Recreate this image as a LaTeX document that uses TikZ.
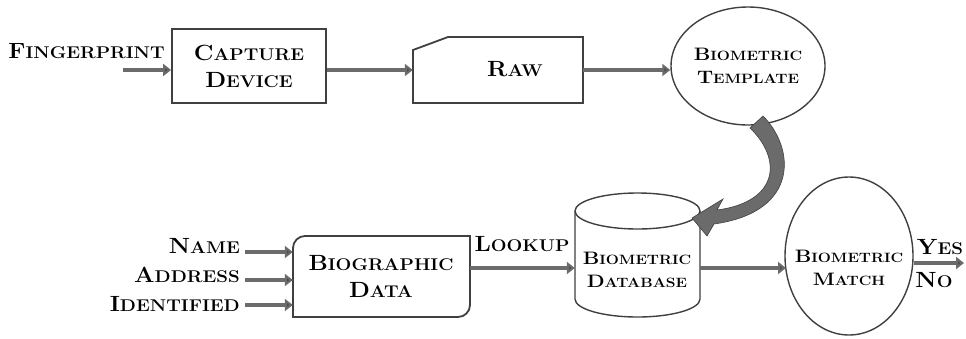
\documentclass[tikz,border=0pt]{standalone}
\usepackage{graphicx}
\usetikzlibrary{arrows.meta,shapes.geometric}
% large caps-and-small-caps labels, set slightly wide
\newcommand\cpL[2]{\scalebox{1.1}[1]{{\fontsize{22}{27}\selectfont #1}{\fontsize{17}{27}\selectfont #2}}}
% smaller variant for the round nodes
\newcommand\cpS[2]{\scalebox{1.15}[1]{{\fontsize{18}{23}\selectfont #1}{\fontsize{13.5}{23}\selectfont #2}}}
\definecolor{edge}{gray}{0.25}
\definecolor{flow}{gray}{0.42}
\definecolor{tip}{gray}{0.3}
\tikzset{
  lbl/.style={font=\bfseries\fontsize{17}{27}\selectfont, text=black, inner sep=0pt},
  lblS/.style={font=\bfseries\fontsize{13.5}{23}\selectfont, text=black, inner sep=0pt, align=center},
  boxshape/.style={draw=edge, line width=1.8pt, fill=white},
  roundshape/.style={ellipse, draw=edge, line width=1.4pt, fill=white, inner sep=0pt},
  flowarrow/.style={draw=flow, line width=4.5pt, -{Triangle[length=8pt,width=12pt,fill=tip]}},
}
\begin{document}
\begin{tikzpicture}[x=1pt,y=-1pt]
\useasboundingbox (0,0) rectangle (966,338);

% ---------- top row ----------
\node[lbl, anchor=east] (fp) at (165,51) {\cpL{F}{INGERPRINT}};
\coordinate (fpin) at (123,70);

\node[boxshape, minimum width=154pt, minimum height=74pt, align=center,
      font=\bfseries\fontsize{17}{27}\selectfont] (cap) at (249,66)
  {\cpL{C}{APTURE}\\\cpL{D}{EVICE}};

% raw record with a cut corner
\node[minimum width=170pt, minimum height=67pt, inner sep=0pt] (raw) at (498,69.5) {};
\draw[boxshape] (413,103) -- (413,50) -- (448,37) -- (583,37) -- (583,103) -- cycle;
\node[lbl] at (515,69) {\cpL{R}{AW}};

\node[roundshape, minimum width=154pt, minimum height=118pt] (tmpl) at (748,66) {};
\node[lblS] at (748,66) {\cpS{B}{IOMETRIC}\\\cpS{T}{EMPLATE}};

% ---------- bottom row ----------
\node[lbl, anchor=east] (nm) at (240,246) {\cpL{N}{AME}};
\node[lbl, anchor=east] (ad) at (240,275) {\cpL{A}{DDRESS}};
\node[lbl, anchor=east] (id) at (240,304) {\cpL{I}{DENTIFIED}};
\coordinate (nmin) at (245,252);
\coordinate (adin) at (245,280);
\coordinate (idin) at (245,305);

% biographic data box, rounded at top left and bottom right
\node[minimum width=177pt, minimum height=81pt, inner sep=0pt] (bio) at (381.5,276.5) {};
\draw[boxshape] (293,317) -- (293,248) arc[start angle=180,end angle=270,radius=12] -- (470,236)
  -- (470,305) arc[start angle=0,end angle=90,radius=12] -- cycle;
\node[lbl, align=center] at (381,276) {\cpL{B}{IOGRAPHIC}\\\cpL{D}{ATA}};

\node[lbl] (lk) at (522,244) {\cpL{L}{OOKUP}};

% database cylinder
\node[minimum width=125pt, minimum height=124pt, inner sep=0pt] (db) at (637.5,262) {};
\draw[boxshape, line width=1.4pt] (575,211) -- (575,299) arc[start angle=180,end angle=0,x radius=62.5,y radius=18] -- (700,211);
\draw[boxshape, line width=1.4pt] (637.5,211) ellipse[x radius=62.5,y radius=18];
\node[lblS] at (637,270) {\cpS{B}{IOMETRIC}\\\cpS{D}{ATABASE}};

\node[roundshape, minimum width=128pt, minimum height=158pt] (match) at (849,256) {};
\node[lblS] at (849,268) {\cpS{B}{IOMETRIC}\\\cpS{M}{ATCH}};

\node[lbl] (yes) at (940,247) {\cpL{Y}{ES}};
\node[lbl] (no) at (934,280) {\cpL{N}{O}};
\coordinate (out) at (964,263);

% ---------- connectors ----------
\draw[flowarrow] (fpin) -- (cap.west |- fpin);
\draw[flowarrow] (cap.east |- 0,70) -- (raw.west |- 0,70);
\draw[flowarrow] (raw.east |- 0,70) -- (tmpl.west |- 0,70);
\draw[flowarrow] (nmin) -- (bio.west |- nmin);
\draw[flowarrow] (adin) -- (bio.west |- adin);
\draw[flowarrow] (idin) -- (bio.west |- idin);
\draw[flowarrow] (bio.east |- 0,268) -- (db.west |- 0,268);
\draw[flowarrow] (db.east |- 0,268) -- (786,268);
\draw[flowarrow] (match.east |- 0,263) -- (out);

% broad curved arrow from the template down into the database
\fill[flow, draw=edge, line width=0.6pt]
  (750,128) -- (763,116)
  .. controls (795,148) and (800,212) .. (714,224)
  -- (707,236) -- (692,218) -- (723,199) -- (717,210)
  .. controls (778,202) and (783,160) .. (750,128) -- cycle;
\end{tikzpicture}
\end{document}
